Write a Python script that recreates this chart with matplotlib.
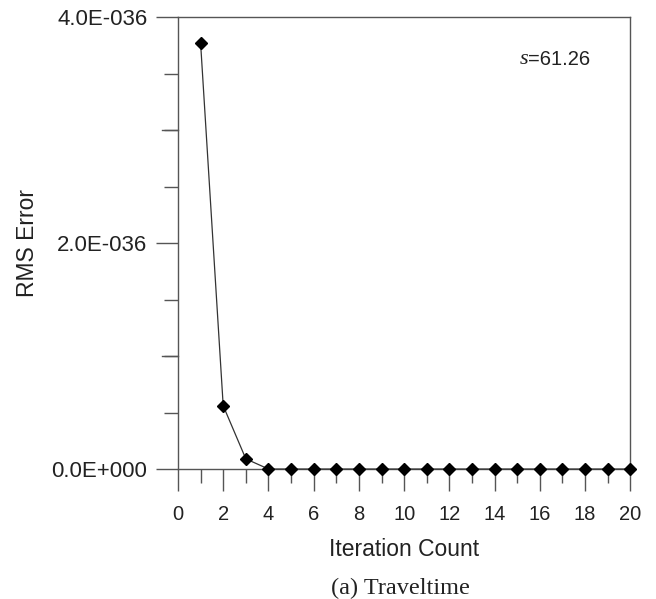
import numpy as np
import matplotlib
matplotlib.use('Agg')
import matplotlib.pyplot as plt
from matplotlib.ticker import MultipleLocator, FixedLocator

# RMS error per iteration
iterations = list(range(1, 21))
rms_error = [3.77e-36, 0.56e-36, 0.09e-36] + [0.0] * 17

ytick_vals = [0.0, 2.0e-36, 4.0e-36]
ytick_labels = ['0.0E+000', '2.0E-036', '4.0E-036']

fig = plt.figure(figsize=(6.56, 5.99), dpi=100)
ax = fig.add_axes([0.2713, 0.217, 0.6895, 0.7546])

sans = 'Liberation Sans'
serif = 'Liberation Serif'
ink = '#222222'
axcol = '#555555'

ax.plot(iterations, rms_error, color='#333333', lw=0.9, marker='D',
        ms=6.3, mfc='black', mec='black', clip_on=False, zorder=3)

ax.set_xlim(0, 20)
ax.set_ylim(0, 4.0e-36)

ax.xaxis.set_major_locator(MultipleLocator(2))
ax.xaxis.set_minor_locator(MultipleLocator(1))
ax.yaxis.set_major_locator(FixedLocator(ytick_vals))
ax.set_yticklabels(ytick_labels)
ax.yaxis.set_minor_locator(MultipleLocator(0.5e-36))

for s in ax.spines.values():
    s.set_color(axcol)
    s.set_linewidth(1.0)

ax.tick_params(axis='both', which='major', direction='out', length=16,
               width=1.0, color=axcol)
ax.tick_params(axis='x', which='major', labelsize=14.5, pad=10)
ax.tick_params(axis='y', which='major', labelsize=16, pad=6)
ax.tick_params(axis='both', which='minor', direction='out', length=10,
               width=1.0, color=axcol)
ax.tick_params(top=False, right=False)

# long unlabelled ticks at 1.0 and 3.0 on y
for yv in [1.0e-36, 3.0e-36]:
    ax.plot([-0.71, 0], [yv, yv], color=axcol, lw=1.0, clip_on=False)

for lab in ax.get_xticklabels() + ax.get_yticklabels():
    lab.set_family(sans)
    lab.set_color(ink)

ax.set_xlabel('Iteration Count', family=sans, fontsize=16.5, color=ink, labelpad=10)
ax.set_ylabel('RMS Error', family=sans, fontsize=16.5, color=ink, labelpad=9)

fig.text(0.61, 0.0, '(a) Traveltime', family=serif, fontsize=17.5,
         ha='center', va='bottom', color=ink)

t1 = ax.text(0.755, 0.895, 's', transform=ax.transAxes, family=serif,
             style='italic', fontsize=16, va='baseline', color=ink)
ax.annotate('=61.26', xy=(1, 0), xycoords=t1, family=sans, fontsize=14.5,
            va='bottom', ha='left', color=ink)

fig.savefig('out.png', dpi=100)
